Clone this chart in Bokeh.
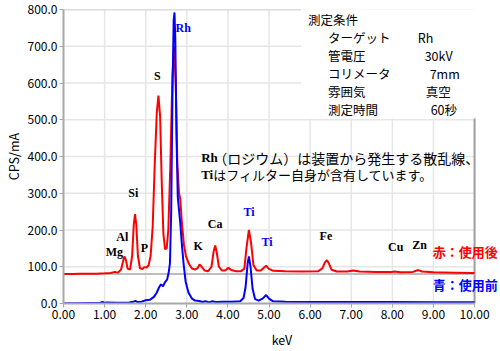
from bokeh.plotting import figure
from bokeh.models import Range1d, FixedTicker, PrintfTickFormatter, Label, ColumnDataSource
from bokeh.embed import file_html
from bokeh.resources import INLINE

# ---------------- data ----------------
kev_after = [0.00, 0.20, 0.40, 0.60, 0.80, 1.00, 1.15, 1.25, 1.32, 1.40, 1.45, 1.48, 1.52, 1.56,
             1.62, 1.67, 1.71, 1.74, 1.77, 1.81, 1.86, 1.92, 1.97, 2.02, 2.07, 2.12, 2.17, 2.22,
             2.27, 2.31, 2.35, 2.39, 2.43, 2.47, 2.51, 2.55, 2.60, 2.65, 2.69, 2.73, 2.77, 2.81,
             2.84, 2.88, 2.93, 2.98, 3.05, 3.12, 3.20, 3.26, 3.31, 3.36, 3.43, 3.52, 3.60, 3.65,
             3.69, 3.73, 3.78, 3.85, 3.93, 4.01, 4.08, 4.20, 4.32, 4.40, 4.45, 4.51, 4.56, 4.62,
             4.70, 4.80, 4.88, 4.93, 4.99, 5.10, 5.40, 5.80, 6.20, 6.30, 6.36, 6.41, 6.46, 6.52,
             6.65, 6.90, 7.05, 7.20, 7.60, 8.00, 8.04, 8.20, 8.50, 8.63, 8.72, 9.00, 9.50, 10.00]
cps_after = [80, 80, 81, 81, 81, 82, 83, 86, 84, 92, 115, 128, 118, 95,
             92, 130, 215, 243, 215, 130, 96, 94, 99, 98, 104, 130, 210, 380,
             520, 566, 510, 330, 190, 148, 150, 200, 380, 620, 700, 600, 380, 300,
             285, 220, 160, 128, 108, 96, 92, 96, 106, 100, 90, 88, 100, 140,
             158, 138, 100, 90, 90, 97, 91, 88, 88, 95, 150, 200, 168, 105,
             90, 90, 98, 103, 95, 89, 88, 87, 88, 96, 112, 118, 108, 92,
             87, 87, 90, 87, 86, 86, 87, 85, 86, 91, 87, 85, 84, 83]

kev_before = [0.00, 0.30, 0.60, 0.90, 0.95, 1.00, 1.05, 1.30, 1.60, 1.70, 1.75, 1.80, 1.90, 2.00,
              2.10, 2.20, 2.27, 2.33, 2.37, 2.42, 2.47, 2.52, 2.56, 2.59, 2.62, 2.65, 2.68, 2.70,
              2.72, 2.75, 2.78, 2.81, 2.84, 2.88, 2.92, 2.97, 3.04, 3.12, 3.20, 3.30, 3.38, 3.45,
              3.55, 3.62, 3.70, 3.90, 4.10, 4.30, 4.38, 4.43, 4.48, 4.51, 4.55, 4.60, 4.66, 4.75,
              4.85, 4.93, 5.00, 5.10, 5.40, 6.00, 7.00, 8.00, 9.00, 10.00]
cps_before = [1, 1, 1.5, 2, 4, 1.5, 3, 2, 3, 5, 7, 4, 5, 9,
              10, 18, 30, 45, 52, 47, 58, 65, 85, 110, 250, 560, 770, 792,
              720, 450, 290, 255, 220, 160, 110, 60, 30, 14, 8, 7, 4, 6,
              3, 6, 4, 5, 5, 6, 15, 45, 110, 128, 100, 40, 12, 8,
              14, 23, 13, 6, 5, 4, 4, 4, 3.5, 3.5]

x_ticks = [0, 1, 2, 3, 4, 5, 6, 7, 8, 9, 10]
y_ticks = [0, 100, 200, 300, 400, 500, 600, 700, 800]
X_MAX = 10
Y_MAX = 800
REF_LEVEL = 80

element_names = ["Mg", "Al", "P", "Si", "S", "Rh", "K", "Ca", "Ti", "Ti", "Fe", "Cu", "Zn"]
element_colors = ["black", "black", "black", "black", "black", "#0000ff", "black", "black",
                  "#0000ff", "#0000ff", "black", "black", "black"]

cond_title = "測定条件"
cond_items = ["ターゲット", "管電圧", "コリメータ", "雰囲気", "測定時間"]
cond_values = ["Rh", "30kV", "7mm", "真空", "60秒"]

note_heads = ["Rh", "Ti"]
note_tails = ["（ロジウム）は装置から発生する散乱線、", "はフィルター自身が含有しています。"]
legend_texts = ["赤：使用後", "青：使用前"]

# ---------------- layout helpers (pixel -> data) ----------------
W, H = 500, 351
L, T, B = 62, 9, 48
PX_PER_KEV = 41.2                 # frame spans 0..10 keV over 412 px
FH = H - T - B
X_END = (W - L) / PX_PER_KEV      # frame extended to the right edge so texts are not clipped


def dx(px):
    return (px - L) / PX_PER_KEV


def dy(py):
    return Y_MAX - (py - T) / FH * Y_MAX


JP = "Noto Sans CJK JP"
SERIF = "Liberation Serif"

p = figure(width=W, height=H, output_backend="svg", toolbar_location=None,
           x_range=Range1d(0, X_END), y_range=Range1d(0, Y_MAX),
           min_border_left=L, min_border_right=0, min_border_top=T, min_border_bottom=B)
p.outline_line_color = None
p.background_fill_color = "white"
p.border_fill_color = "white"
p.xgrid.visible = False
p.ygrid.visible = False

# axes
for ax, ticks, fmt, bnds in ((p.xaxis, x_ticks, "%.2f", (0, X_MAX)),
                             (p.yaxis, y_ticks, "%.1f", (0, Y_MAX))):
    ax.ticker = FixedTicker(ticks=ticks)
    ax.formatter = PrintfTickFormatter(format=fmt)
    ax.bounds = bnds
    ax.axis_line_color = "#a8a8a8"
    ax.axis_line_width = 2
    ax.major_tick_line_color = "#a8a8a8"
    ax.major_tick_out = 4
    ax.major_tick_in = 0
    ax.minor_tick_line_color = None
    ax.major_label_text_font = JP
    ax.major_label_text_font_size = "12px"
    ax.major_label_text_color = "black"
    ax.axis_label_text_font = JP
    ax.axis_label_text_font_size = "12.5px"
    ax.axis_label_text_font_style = "normal"
    ax.axis_label_text_color = "black"
p.xaxis.axis_label = "keV"
p.yaxis.axis_label = "CPS/mA"
p.xaxis.major_label_standoff = 2
p.yaxis.major_label_standoff = 2
p.xaxis.axis_label_standoff = 8
p.yaxis.axis_label_standoff = 2

# grid lines limited to the 0..10 keV frame
gx = [t for t in x_ticks if 0 < t <= X_MAX]
gy = [t for t in y_ticks if 0 < t <= Y_MAX]
p.segment(x0=gx, y0=[0] * len(gx), x1=gx, y1=[Y_MAX] * len(gx),
          line_color="#e6e6e6", line_width=1.5, level="underlay")
p.segment(x0=[0] * len(gy), y0=gy, x1=[X_MAX] * len(gy), y1=gy,
          line_color="#e6e6e6", line_width=1.5, level="underlay")

# white panel behind the conditions box (hides grid in top-right)
p.quad(left=[dx(300)], right=[X_END], bottom=[dy(118)], top=[Y_MAX + 20],
       fill_color="white", line_color=None, level="underlay")

# frame lines (top and right)
p.segment(x0=[0], y0=[Y_MAX], x1=[dx(300)], y1=[Y_MAX], line_color="#c8c8c8", line_width=1.5)
p.segment(x0=[X_MAX], y0=[0], x1=[X_MAX], y1=[dy(118)], line_color="#a0a0a0", line_width=2)

# gray reference line under the red spectrum
p.segment(x0=[0], y0=[REF_LEVEL], x1=[X_MAX], y1=[REF_LEVEL], line_color="#bdbdbd", line_width=2)

# spectra
src_after = ColumnDataSource(dict(x=kev_after, y=cps_after))
src_before = ColumnDataSource(dict(x=kev_before, y=cps_before))
p.line("x", "y", source=src_after, line_color="#ff0000", line_width=2)
p.line("x", "y", source=src_before, line_color="#0000ff", line_width=2)

# element labels (pixel centres measured on the picture)
el_px = [(113, 251), (121, 236), (143, 247), (132, 192), (156, 75), (182, 27), (197, 245),
         (214, 223), (248, 211), (266, 241), (325, 235), (395, 246), (419, 244)]
for name, col, (px, py) in zip(element_names, element_colors, el_px):
    p.add_layout(Label(x=dx(px), y=dy(py), text=name, text_font=SERIF, text_font_style="bold",
                       text_font_size="12px", text_color=col, text_align="center",
                       text_baseline="middle"))

# conditions box
p.add_layout(Label(x=dx(307), y=dy(19), text=cond_title, text_font=JP, text_font_size="12.5px",
                   text_color="black", text_align="left", text_baseline="middle"))
val_px = [417, 424, 429, 425, 430]
for i, (item, val) in enumerate(zip(cond_items, cond_values)):
    yy = 37 + i * 18
    p.add_layout(Label(x=dx(327), y=dy(yy), text=item, text_font=JP, text_font_size="12.5px",
                       text_color="black", text_align="left", text_baseline="middle"))
    p.add_layout(Label(x=dx(val_px[i]), y=dy(yy), text=val, text_font=JP, text_font_size="12.5px",
                       text_color="black", text_align="left", text_baseline="middle"))

# note
note_sizes = ["14px", "13px"]
for i, (head, tail) in enumerate(zip(note_heads, note_tails)):
    yy = 157 + i * 17
    p.add_layout(Label(x=dx(200), y=dy(yy), text=head, text_font=SERIF, text_font_style="bold",
                       text_font_size="13px", text_color="black", text_align="left",
                       text_baseline="middle"))
    p.add_layout(Label(x=dx(212), y=dy(yy), text=tail, text_font=JP,
                       text_font_size=note_sizes[i], text_color="black", text_align="left",
                       text_baseline="middle"))

# legend texts
for txt, col, yy in zip(legend_texts, ["#ff0000", "#0000ff"], [251, 284]):
    p.add_layout(Label(x=dx(432), y=dy(yy), text=txt, text_font=JP, text_font_style="bold",
                       text_font_size="13px", text_color=col, text_align="left",
                       text_baseline="middle"))

open("out.html", "w").write(file_html(p, INLINE))
